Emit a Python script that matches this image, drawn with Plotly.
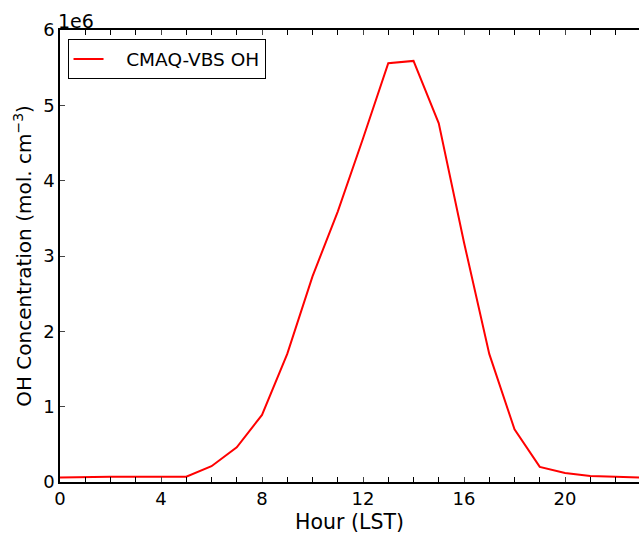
import plotly.graph_objects as go

hours = list(range(24))
oh_conc = [0.06e6, 0.07e6, 0.07e6, 0.07e6, 0.07e6, 0.07e6, 0.21e6, 0.46e6, 0.89e6, 1.70e6,
           2.73e6, 3.59e6, 4.56e6, 5.56e6, 5.59e6, 4.76e6, 3.18e6, 1.70e6, 0.70e6, 0.20e6,
           0.12e6, 0.08e6, 0.07e6, 0.06e6]
series_name = "CMAQ-VBS OH"
x_ticks = [0, 4, 8, 12, 16, 20]
y_tickvals = [0, 1e6, 2e6, 3e6, 4e6, 5e6, 6e6]
y_ticktext = ["0", "1", "2", "3", "4", "5", "6"]

font = "DejaVu Sans, sans-serif"

fig = go.Figure()
fig.add_trace(go.Scatter(x=hours, y=oh_conc, mode="lines", name="\u00a0\u00a0\u00a0" + series_name,
                         line=dict(color="#ff0000", width=2)))

fig.update_layout(
    width=639, height=541,
    margin=dict(l=60, r=0, t=30, b=59, autoexpand=False),
    paper_bgcolor="white", plot_bgcolor="white",
    font=dict(family=font, size=18, color="black"),
    showlegend=True,
    legend=dict(x=0.013, y=0.979, xanchor="left", yanchor="top",
                bordercolor="black", borderwidth=1, bgcolor="white",
                font=dict(size=18.5), tracegroupgap=0),
    annotations=[dict(text="1e6", xref="paper", yref="paper", x=0, y=1,
                      xanchor="left", yanchor="bottom", showarrow=False,
                      font=dict(size=19), xshift=-4, yshift=-4)],
)
fig.update_xaxes(range=[0, 22.93], tickvals=x_ticks, ticks="inside", ticklen=5,
                 showline=True, linecolor="black", linewidth=1.5, mirror="ticks",
                 showgrid=False, zeroline=False, automargin=False,
                 minor=dict(dtick=1, ticks="inside", ticklen=5, tickcolor="black", showgrid=False),
                 title=dict(text="Hour (LST)", standoff=6, font=dict(size=20.5)))
fig.update_yaxes(range=[0, 6e6], tickvals=y_tickvals, ticktext=y_ticktext,
                 ticks="inside", ticklen=5, showline=True, linecolor="black", linewidth=1.5,
                 showgrid=False, zeroline=False, automargin=False,
                 title=dict(text="OH Concentration (mol. cm<sup>−3</sup>)", standoff=6,
                            font=dict(size=20)))

fig.write_html("out.html", config={"displayModeBar": False})

with open("out.html", "r", encoding="utf-8") as f:
    html = f.read()
html = html.replace("<head>", "<head><style>html,body{margin:0;padding:0;}</style>", 1)
with open("out.html", "w", encoding="utf-8") as f:
    f.write(html)
